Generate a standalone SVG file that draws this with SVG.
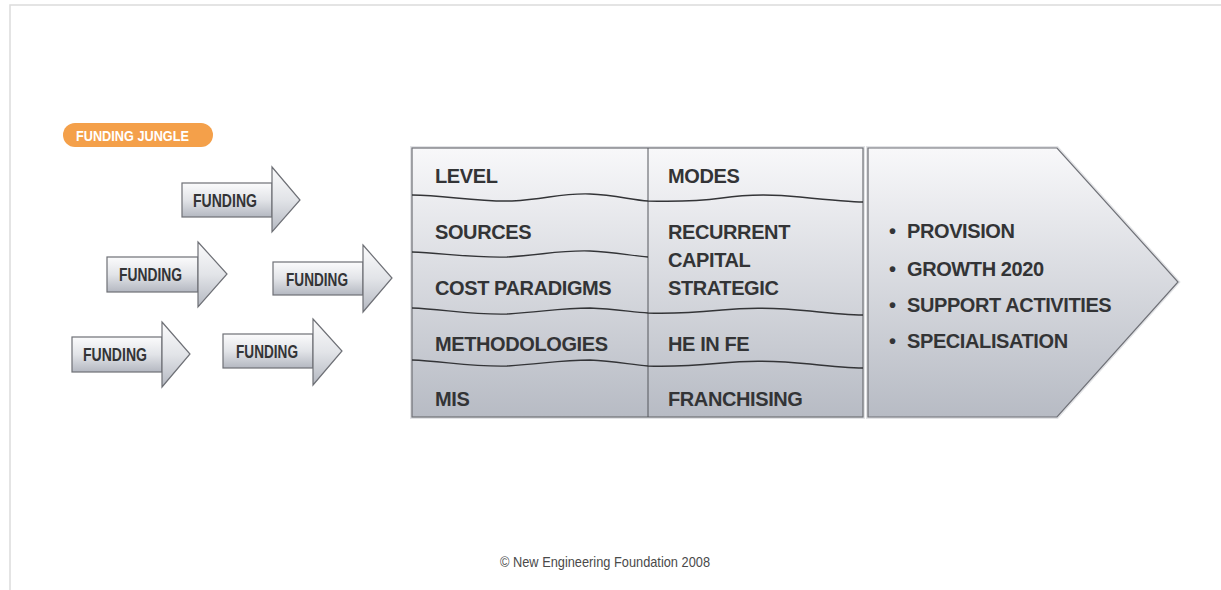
<svg xmlns="http://www.w3.org/2000/svg" width="1221" height="590" viewBox="0 0 1221 590">
<style>
  .frame{fill:none;stroke:#dcdcdc;stroke-width:1.5}
  .shape{stroke:#6e7076;stroke-width:1.2}
  .halo{fill:none;stroke:#e2e3e6;stroke-width:4}
  .wave{fill:none;stroke:#333437;stroke-width:1.4}
  .div{fill:none;stroke:#55575c;stroke-width:1}
  .lbl{font-family:"Liberation Sans",Arial,sans-serif;font-weight:bold;fill:#333436}
  .fund{font-size:18px}
  .cell{font-size:20px;letter-spacing:-0.4px}
  .pill{fill:#f4a04a}
  .pilltxt{font-family:"Liberation Sans",Arial,sans-serif;font-weight:bold;font-size:15px;fill:#ffffff}
  .foot{font-family:"Liberation Sans",Arial,sans-serif;font-size:15px;fill:#4a4a4a}
</style>
<defs>
  <linearGradient id="gArrow" x1="0" y1="0" x2="0" y2="1">
    <stop offset="0" stop-color="#fbfbfc"/>
    <stop offset="0.5" stop-color="#e2e4e8"/>
    <stop offset="1" stop-color="#b4b8c1"/>
  </linearGradient>
  <linearGradient id="gPanel" x1="0" y1="0" x2="0" y2="1">
    <stop offset="0" stop-color="#f8f8fa"/>
    <stop offset="1" stop-color="#b7bbc4"/>
  </linearGradient>
</defs>
<rect width="1221" height="590" fill="#ffffff"/>
<path class="frame" d="M10,590 L10,5 L1221,5"/>

<g id="funding-jungle">
  <rect class="pill" x="63" y="123" width="150" height="24" rx="12" ry="12"/>
  <text class="pilltxt" x="76" y="141" textLength="113" lengthAdjust="spacingAndGlyphs">FUNDING JUNGLE</text>
</g>

<g id="funding-1">
  <rect class="shape" x="182" y="183" width="90" height="34" fill="url(#gArrow)"/>
  <polygon class="shape" points="272,167 300,200 272,232" fill="url(#gArrow)"/>
  <text class="lbl fund" x="193" y="207" textLength="64" lengthAdjust="spacingAndGlyphs">FUNDING</text>
</g>
<g id="funding-2">
  <rect class="shape" x="107" y="257" width="91" height="35" fill="url(#gArrow)"/>
  <polygon class="shape" points="198,242 227,274 198,307" fill="url(#gArrow)"/>
  <text class="lbl fund" x="119" y="281" textLength="63" lengthAdjust="spacingAndGlyphs">FUNDING</text>
</g>
<g id="funding-3">
  <rect class="shape" x="273" y="262" width="90" height="33" fill="url(#gArrow)"/>
  <polygon class="shape" points="363,245 392,278 363,312" fill="url(#gArrow)"/>
  <text class="lbl fund" x="286" y="286" textLength="62" lengthAdjust="spacingAndGlyphs">FUNDING</text>
</g>
<g id="funding-4">
  <rect class="shape" x="72" y="337" width="90" height="35" fill="url(#gArrow)"/>
  <polygon class="shape" points="162,322 190,354 162,387" fill="url(#gArrow)"/>
  <text class="lbl fund" x="83" y="361" textLength="64" lengthAdjust="spacingAndGlyphs">FUNDING</text>
</g>
<g id="funding-5">
  <rect class="shape" x="223" y="334" width="90" height="34" fill="url(#gArrow)"/>
  <polygon class="shape" points="313,319 342,351 313,385" fill="url(#gArrow)"/>
  <text class="lbl fund" x="236" y="358" textLength="62" lengthAdjust="spacingAndGlyphs">FUNDING</text>
</g>

<g id="funding-table">
  <rect class="halo" x="412" y="148" width="451" height="269"/>
  <rect class="shape" x="412" y="148" width="451" height="269" fill="url(#gPanel)"/>
  <line class="div" x1="648" y1="148" x2="648" y2="417"/>
  <path class="wave" d="M412,195 C445,195 475,202 512,201 C548,199 560,193 590,194 C615,195 632,200 648,201 C680,202 700,201 722,198 C748,194 772,194 800,197 C830,200 850,202 863,202"/>
  <path class="wave" d="M412,252 C442,253 472,258 507,257 C542,255 560,250 590,251 C615,252 632,256 648,257"/>
  <path class="wave" d="M412,308 C442,309 472,315 507,314 C542,312 560,308 590,308 C615,309 632,312 648,313 C680,314 700,312 722,310 C750,307 780,308 810,311 C838,314 852,315 863,315"/>
  <path class="wave" d="M412,360 C442,361 472,367 507,366 C542,364 560,360 590,360 C615,361 632,365 648,366 C680,367 700,365 722,363 C750,360 780,361 810,364 C838,367 852,368 863,368"/>
  <text class="lbl cell" x="435" y="183">LEVEL</text>
  <text class="lbl cell" x="435" y="239">SOURCES</text>
  <text class="lbl cell" x="435" y="295">COST PARADIGMS</text>
  <text class="lbl cell" x="435" y="351">METHODOLOGIES</text>
  <text class="lbl cell" x="435" y="406">MIS</text>
  <text class="lbl cell" x="668" y="183">MODES</text>
  <text class="lbl cell" x="668" y="239">RECURRENT</text>
  <text class="lbl cell" x="668" y="267">CAPITAL</text>
  <text class="lbl cell" x="668" y="295">STRATEGIC</text>
  <text class="lbl cell" x="668" y="351">HE IN FE</text>
  <text class="lbl cell" x="668" y="406">FRANCHISING</text>
</g>

<g id="outcomes">
  <polygon class="halo" points="868,148 1057,148 1178,282 1057,417 868,417"/>
  <polygon class="shape" points="868,148 1057,148 1178,282 1057,417 868,417" fill="url(#gPanel)"/>
  <text class="lbl cell" x="889" y="238">•<tspan x="907">PROVISION</tspan></text>
  <text class="lbl cell" x="889" y="276">•<tspan x="907">GROWTH 2020</tspan></text>
  <text class="lbl cell" x="889" y="312">•<tspan x="907">SUPPORT ACTIVITIES</tspan></text>
  <text class="lbl cell" x="889" y="348">•<tspan x="907">SPECIALISATION</tspan></text>
</g>

<g id="connectors"></g>

<text class="foot" x="500" y="567" textLength="210" lengthAdjust="spacingAndGlyphs">© New Engineering Foundation 2008</text>
</svg>
